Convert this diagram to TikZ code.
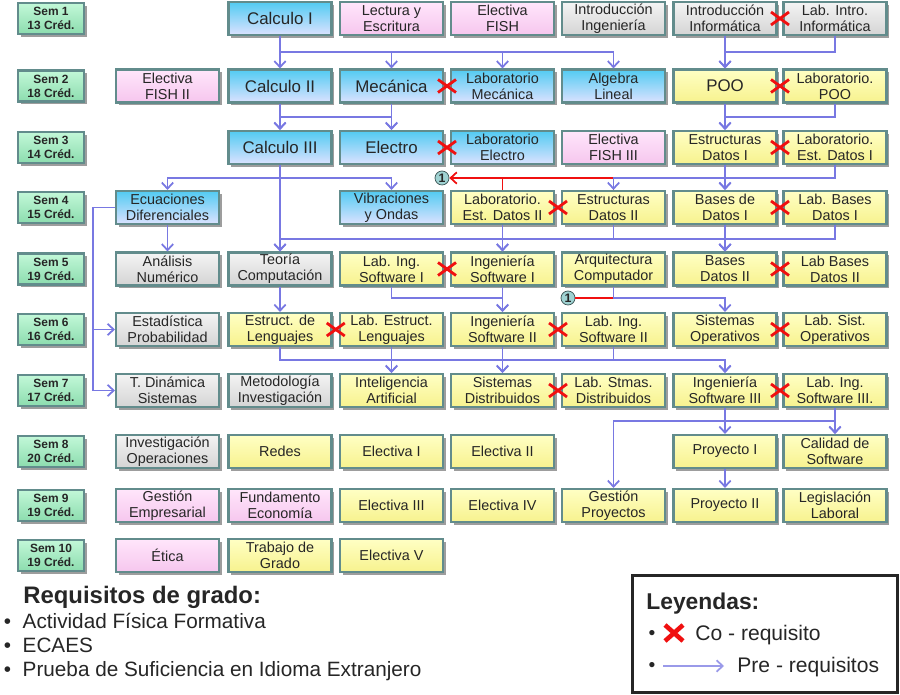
\documentclass[tikz,border=0pt]{standalone}
\usepackage{fontspec}
\setmainfont{Liberation Sans}
\usetikzlibrary{positioning, arrows.meta, shadows, calc}
\definecolor{edgec}{HTML}{628C8C}
\definecolor{cbtop}{HTML}{52CBF2}
\definecolor{cbbot}{HTML}{DCE2FF}
\definecolor{cytop}{HTML}{FFFFC4}
\definecolor{cybot}{HTML}{F7F28E}
\definecolor{cptop}{HTML}{FFE6FB}
\definecolor{cpbot}{HTML}{F6C6EE}
\definecolor{cgtop}{HTML}{F4F4F4}
\definecolor{cgbot}{HTML}{D4D4D4}
\definecolor{cstop}{HTML}{C2F8D8}
\definecolor{csbot}{HTML}{8CDCAE}
\definecolor{prec}{HTML}{7878E2}
\definecolor{coc}{HTML}{F01010}
\definecolor{tagc}{HTML}{9FD2D2}

% red cross between two neighbouring courses
\newcommand{\coreq}[2]{%
  \draw[coreqx] ($(#1.east)!0.5!(#2.west)$) +(-9,-6.5) -- +(9,6.5)
                ($(#1.east)!0.5!(#2.west)$) +(-9,6.5) -- +(9,-6.5);}

\begin{document}
\begin{tikzpicture}[
      x=0.02cm, y=-0.02cm,
      every node/.style={text=black!85},
      box/.style={draw=edgec, line width=1.2pt, minimum width=2.06cm,
                  minimum height=0.66cm, inner sep=1pt, align=center,
                  font=\fontsize{8.2}{9}\selectfont,
                  drop shadow={shadow xshift=1.6pt, shadow yshift=-1.6pt,
                               opacity=0.55, fill=black!70}},
      course/.style={box, top color=#1top, bottom color=#1bot},
      big/.style={font=\fontsize{9.6}{11}\selectfont},
      sem/.style={course=cs, minimum width=1.32cm, minimum height=0.62cm,
                  font=\bfseries\fontsize{6.8}{8}\selectfont},
      >={Straight Barb[length=3.5pt,width=6.5pt]},
      pre/.style={draw=prec, line width=1pt, ->},
      coline/.style={draw=coc, line width=1pt},
      coreqx/.style={draw=coc, line width=1.6pt},
      tag/.style={circle, draw=edgec!60!black, fill=tagc, inner sep=0pt,
                  minimum size=0.28cm, font=\bfseries\fontsize{7}{7}\selectfont},
    ]
    \useasboundingbox (0,0) rectangle (900,695);

    % semesters
    \node[sem] (s1)  at (51, 18.5)  {Sem 1\\13 Créd.};
    \node[sem] (s2)  at (51, 86)    {Sem 2\\18 Créd.};
    \node[sem] (s3)  at (51, 147.5) {Sem 3\\14 Créd.};
    \node[sem] (s4)  at (51, 207.5) {Sem 4\\15 Créd.};
    \node[sem] (s5)  at (51, 269)   {Sem 5\\19 Créd.};
    \node[sem] (s6)  at (51, 329.5) {Sem 6\\16 Créd.};
    \node[sem] (s7)  at (51, 390.5) {Sem 7\\17 Créd.};
    \node[sem] (s8)  at (51, 451.5) {Sem 8\\20 Créd.};
    \node[sem] (s9)  at (51, 505.5) {Sem 9\\19 Créd.};
    \node[sem] (s10) at (51, 555.5) {Sem 10\\19 Créd.};

    % semester 1
    \node[course=cb, big] (calc1) at (280, 18.5)   {Calculo I};
    \node[course=cp]      (lect1) at (391.5, 18.5) {Lectura y\\Escritura};
    \node[course=cp]      (fish1) at (502.5, 18.5) {Electiva\\FISH};
    \node[course=cg]      (iing1) at (613.5, 18.5) {Introducción\\Ingeniería};
    \node[course=cg]      (iinf1) at (725, 18.5)   {Introducción\\Informática};
    \node[course=cg]      (linf1) at (835, 18.5)   {Lab. Intro.\\Informática};

    % semester 2
    \node[course=cp]      (fish2) at (167.5, 86) {Electiva\\FISH II};
    \node[course=cb, big] (calc2) at (280, 86)   {Calculo II};
    \node[course=cb, big] (mec2)  at (391.5, 86) {Mecánica};
    \node[course=cb]      (lmec2) at (502.5, 86) {Laboratorio\\Mecánica};
    \node[course=cb]      (alg2)  at (613.5, 86) {Algebra\\Lineal};
    \node[course=cy, big] (poo2)  at (725, 86)   {POO};
    \node[course=cy]      (lpoo2) at (835, 86)   {Laboratorio.\\POO};

    % semester 3
    \node[course=cb, big] (calc3)  at (280, 147.5)   {Calculo III};
    \node[course=cb, big] (elec3)  at (391.5, 147.5) {Electro};
    \node[course=cb]      (lelec3) at (502.5, 147.5) {Laboratorio\\Electro};
    \node[course=cp]      (fish3)  at (613.5, 147.5) {Electiva\\FISH III};
    \node[course=cy]      (ed3)    at (725, 147.5)   {Estructuras\\Datos I};
    \node[course=cy]      (led3)   at (835, 147.5)   {Laboratorio.\\Est. Datos I};

    % semester 4
    \node[course=cb] (ecu4) at (167.5, 207.5) {Ecuaciones\\Diferenciales};
    \node[course=cb] (vib4) at (391.5, 207.5) {Vibraciones\\y Ondas};
    \node[course=cy] (led4) at (502.5, 207.5) {Laboratorio.\\Est. Datos II};
    \node[course=cy] (ed4)  at (613.5, 207.5) {Estructuras\\Datos II};
    \node[course=cy] (bd4)  at (725, 207.5)   {Bases de\\Datos I};
    \node[course=cy] (lbd4) at (835, 207.5)   {Lab. Bases\\Datos I};

    % semester 5
    \node[course=cg] (anum5) at (167.5, 269) {Análisis\\Numérico};
    \node[course=cg] (teo5)  at (280, 269)   {Teoría\\Computación};
    \node[course=cy] (lis5)  at (391.5, 269) {Lab. Ing.\\Software I};
    \node[course=cy] (is5)   at (502.5, 269) {Ingeniería\\Software I};
    \node[course=cy] (arq5)  at (613.5, 269) {Arquitectura\\Computador};
    \node[course=cy] (bd5)   at (725, 269)   {Bases\\Datos II};
    \node[course=cy] (lbd5)  at (835, 269)   {Lab Bases\\Datos II};

    % semester 6
    \node[course=cg] (est6)   at (167.5, 329.5) {Estadística\\Probabilidad};
    \node[course=cy] (leng6)  at (280, 329.5)   {Estruct. de\\Lenguajes};
    \node[course=cy] (lleng6) at (391.5, 329.5) {Lab. Estruct.\\Lenguajes};
    \node[course=cy] (is6)    at (502.5, 329.5) {Ingeniería\\Software II};
    \node[course=cy] (lis6)   at (613.5, 329.5) {Lab. Ing.\\Software II};
    \node[course=cy] (so6)    at (725, 329.5)   {Sistemas\\Operativos};
    \node[course=cy] (lso6)   at (835, 329.5)   {Lab. Sist.\\Operativos};

    % semester 7
    \node[course=cg] (tdin7) at (167.5, 390.5) {T. Dinámica\\Sistemas};
    \node[course=cg] (met7)  at (280, 390.5)   {Metodología\\Investigación};
    \node[course=cy] (ia7)   at (391.5, 390.5) {Inteligencia\\Artificial};
    \node[course=cy] (sd7)   at (502.5, 390.5) {Sistemas\\Distribuidos};
    \node[course=cy] (lsd7)  at (613.5, 390.5) {Lab. Stmas.\\Distribuidos};
    \node[course=cy] (is7)   at (725, 390.5)   {Ingeniería\\Software III};
    \node[course=cy] (lis7)  at (835, 390.5)   {Lab. Ing.\\Software III.};

    % semester 8
    \node[course=cg] (io8)   at (167.5, 451.5) {Investigación\\Operaciones};
    \node[course=cy] (red8)  at (280, 451.5)   {Redes};
    \node[course=cy] (el8)   at (391.5, 451.5) {Electiva I};
    \node[course=cy] (eii8)  at (502.5, 451.5) {Electiva II};
    \node[course=cy] (proy8) at (725, 451.5)   {Proyecto I};
    \node[course=cy] (cal8)  at (835, 451.5)   {Calidad de\\Software};

    % semester 9
    \node[course=cp] (gem9)  at (167.5, 505.5) {Gestión\\Empresarial};
    \node[course=cp] (eco9)  at (280, 505.5)   {Fundamento\\Economía};
    \node[course=cy] (eiii9) at (391.5, 505.5) {Electiva III};
    \node[course=cy] (eiv9)  at (502.5, 505.5) {Electiva IV};
    \node[course=cy] (gpr9)  at (613.5, 505.5) {Gestión\\Proyectos};
    \node[course=cy] (proy9) at (725, 505.5)   {Proyecto II};
    \node[course=cy] (leg9)  at (835, 505.5)   {Legislación\\Laboral};

    % semester 10
    \node[course=cp] (eti10) at (167.5, 555.5) {Ética};
    \node[course=cy] (tg10)  at (280, 555.5)   {Trabajo de\\Grado};
    \node[course=cy] (ev10)  at (391.5, 555.5) {Electiva V};

    % bus levels
    \coordinate (y1) at (0, 52);
    \coordinate (y2) at (0, 117);
    \coordinate (y3) at (0, 178);
    \coordinate (y4) at (0, 239);
    \coordinate (y5) at (0, 298);
    \coordinate (y6) at (0, 360);
    \coordinate (y7) at (0, 421);

    \node[tag] (c1a) at (442, 178) {1};
    \node[tag] (c1b) at (568, 298) {1};

    % link 1
    \draw[coline, ->] (ed4.north) |- (c1a.east);
    \draw[coline] (led4.north) -- (led4.north |- c1a);
    \draw[coline] (c1b.east) -- (arq5.south |- c1b);

    % pre-requisites
    \draw[pre] (calc1.south) -- (calc2.north);
    \draw[pre] (calc1.south) |- (mec2.north |- y1) -- (mec2.north);
    \draw[pre] (calc1.south) |- (lmec2.north |- y1) -- (lmec2.north);
    \draw[pre] (calc1.south) |- (alg2.north |- y1) -- (alg2.north);
    \draw[pre] (iinf1.south) -- (poo2.north);
    \draw[pre] (linf1.south) |- (poo2.north |- y1) -- (poo2.north);

    \draw[pre] (calc2.south) -- (calc3.north);
    \draw[pre] (calc2.south) |- (elec3.north |- y2) -- (elec3.north);
    \draw[pre] (mec2.south) -- (elec3.north);
    \draw[pre] (mec2.south) |- (calc3.north |- y2) -- (calc3.north);
    \draw[pre] (poo2.south) -- (ed3.north);
    \draw[pre] (lpoo2.south) |- (ed3.north |- y2) -- (ed3.north);

    \draw[pre] (calc3.south) |- (ecu4.north |- y3) -- (ecu4.north);
    \draw[pre] (calc3.south) |- (vib4.north |- y3) -- (vib4.north);
    \draw[pre] (calc3.south) -- (teo5.north);
    \draw[pre] (ed3.south) -- (bd4.north);
    \draw[pre] (ed3.south) |- (ed4.north |- y3) -- (ed4.north);
    \draw[pre] (led3.south) |- (bd4.north |- y3) -- (bd4.north);

    \draw[pre] (led4.south) -- (is5.north);
    \draw[pre] (led4.south) |- (teo5.north |- y4) -- (teo5.north);
    \draw[pre] (ed4.south) |- (is5.north |- y4) -- (is5.north);
    \draw[pre] (ed4.south) |- (bd5.north |- y4) -- (bd5.north);
    \draw[pre] (bd4.south) -- (bd5.north);
    \draw[pre] (lbd4.south) |- (bd5.north |- y4) -- (bd5.north);
    \draw[pre] (ecu4.south) -- (anum5.north);
    \draw[pre] (ecu4.west) -- ++(-22,0) |- (est6.west);
    \draw[pre] (ecu4.west) -- ++(-22,0) |- (tdin7.west);

    \draw[pre] (teo5.south) -- (leng6.north);
    \draw[pre] (is5.south) -- (is6.north);
    \draw[pre] (lis5.south) |- (is6.north |- y5) -- (is6.north);
    \draw[pre] (arq5.south) |- (so6.north |- y5) -- (so6.north);

    \draw[pre] (lleng6.south) -- (ia7.north);
    \draw[pre] (leng6.south) |- (ia7.north |- y6) -- (ia7.north);
    \draw[pre] (lleng6.south) |- (sd7.north |- y6) -- (sd7.north);
    \draw[pre] (is6.south) -- (sd7.north);
    \draw[pre] (is6.south) |- (is7.north |- y6) -- (is7.north);
    \draw[pre] (lis6.south) |- (is7.north |- y6) -- (is7.north);

    \draw[pre] (is7.south) -- (proy8.north);
    \draw[pre] (is7.south) |- (gpr9.north |- y7) -- (gpr9.north);
    \draw[pre] (is7.south) |- (cal8.north |- y7) -- (cal8.north);
    \draw[pre] (lis7.south) -- (cal8.north);
    \draw[pre] (proy8.south) -- (proy9.north);

    % co-requisites
    \coreq{iinf1}{linf1}
    \coreq{mec2}{lmec2}
    \coreq{poo2}{lpoo2}
    \coreq{elec3}{lelec3}
    \coreq{ed3}{led3}
    \coreq{led4}{ed4}
    \coreq{bd4}{lbd4}
    \coreq{lis5}{is5}
    \coreq{bd5}{lbd5}
    \coreq{leng6}{lleng6}
    \coreq{is6}{lis6}
    \coreq{so6}{lso6}
    \coreq{sd7}{lsd7}
    \coreq{is7}{lis7}

    % graduation requirements
    \node[anchor=base west, inner sep=0pt, font=\bfseries\fontsize{13.6}{15}\selectfont]
      (reqt) at (23, 604) {Requisitos de grado:};
    \node[anchor=base west, inner sep=0pt, font=\fontsize{11.8}{14}\selectfont]
      (req1) at (3.5, 629) {•\hspace{6.6pt}Actividad Física Formativa};
    \node[anchor=base west, inner sep=0pt, font=\fontsize{11.8}{14}\selectfont]
      (req2) at (3.5, 653) {•\hspace{6.6pt}ECAES};
    \node[anchor=base west, inner sep=0pt, font=\fontsize{11.8}{14}\selectfont]
      (req3) at (3.5, 677) {•\hspace{6.6pt}Prueba de Suficiencia en Idioma Extranjero};

    % legend
    \node[draw=black!85, line width=1.3pt, minimum width=5.3cm, minimum height=2.34cm]
      (ley) at (765, 634) {};
    \node[anchor=base west, inner sep=0pt, font=\bfseries\fontsize{13}{15}\selectfont]
      (leyt) at (646, 610) {Leyendas:};
    \node[anchor=base, inner sep=0pt, font=\fontsize{11}{12}\selectfont] (bul1) at (652, 640) {•};
    \node[anchor=base, inner sep=0pt, font=\fontsize{11}{12}\selectfont] (bul2) at (652, 672) {•};
    \coordinate (leyx) at (674, 633);
    \draw[coreqx, line width=2.6pt] (leyx) +(-9,-8) -- +(9,8) (leyx) +(-9,8) -- +(9,-8);
    \node[anchor=base west, inner sep=0pt, font=\fontsize{12}{14}\selectfont]
      (leyco) at (695, 641) {Co - requisito};
    \coordinate (leya) at (663, 666);
    \coordinate (leyb) at (724, 666);
    \draw[pre, draw=prec!75] (leya) -- (leyb);
    \node[anchor=base west, inner sep=0pt, font=\fontsize{12}{14}\selectfont]
      (leypre) at (737, 673) {Pre - requisitos};
  \end{tikzpicture}
\end{document}
